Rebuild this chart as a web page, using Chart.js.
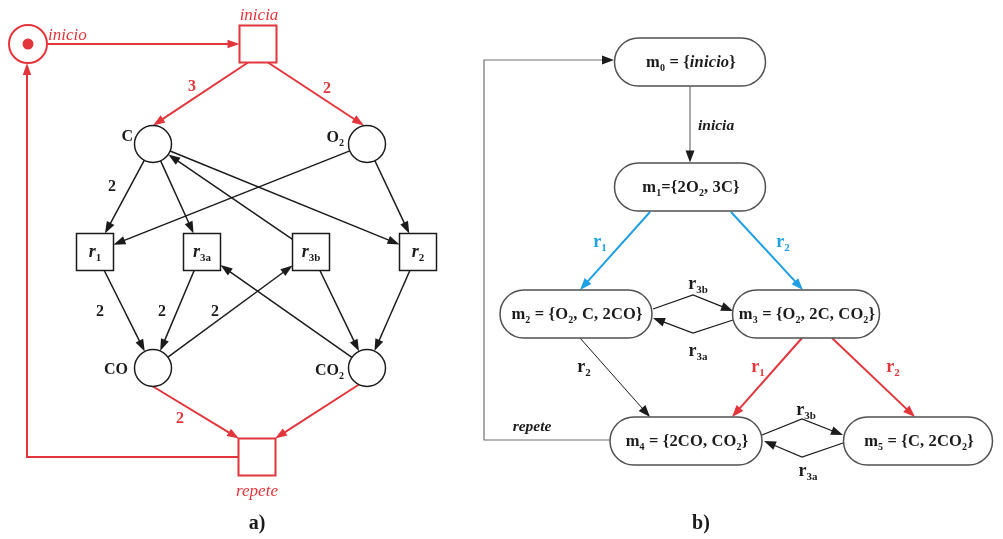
<!DOCTYPE html>
<html><head><meta charset="utf-8">
<script src="https://cdn.jsdelivr.net/npm/chart.js@4"></script>
<style>html,body{margin:0;padding:0;background:#fff;overflow:hidden}#wrap{width:1003px;height:539px}</style>
</head><body><div id="wrap"><canvas id="c" width="1003" height="539"></canvas></div>
<script>
// ---------- (a) Petri net ----------
const placeIds    = ['inicio', 'C', 'O2', 'CO', 'CO2'];
const placeX      = [28, 153, 367, 153, 367];
const placeY      = [44, 144, 144, 368, 368];
const placeTokens = [1, 0, 0, 0, 0];
const placeText   = ['*inicio*', 'C', 'O~2~', 'CO', 'CO~2~'];

const transIds  = ['inicia', 'r1', 'r3a', 'r3b', 'r2', 'repete'];
const transX    = [258, 95, 202, 311, 418, 257];
const transY    = [44, 252, 252, 252, 252, 457];
const transText = ['*inicia*', '*r*~1~', '*r*~3a~', '*r*~3b~', '*r*~2~', '*repete*'];

const arcFrom   = ['inicio','inicia','inicia','C','C','r3b','C','O2','O2','r1','r3a','CO','CO2','r3b','r2','CO','CO2','repete'];
const arcTo     = ['inicia','C','O2','r1','r3a','C','r2','r1','r2','CO','CO','r3b','r3a','CO2','CO2','repete','repete','inicio'];
const arcWeight = [1,3,2,2,1,1,1,1,1,2,2,2,1,1,1,2,1,1];

// ---------- (b) reachability graph ----------
const markIds  = ['m0','m1','m2','m3','m4','m5'];
const markX    = [690, 690, 576, 806, 686, 918];
const markY    = [62, 187, 314, 314, 441, 441];
const markText = ['m~0~ = {*inicio*}', 'm~1~={2O~2~, 3C}', 'm~2~ = {O~2~, C, 2CO}',
                  'm~3~ = {O~2~, 2C, CO~2~}', 'm~4~ = {2CO, CO~2~}', 'm~5~ = {C, 2CO~2~}'];

const edgeFrom  = ['m0','m1','m1','m2','m3','m2','m3','m3','m4','m5','m4'];
const edgeTo    = ['m1','m2','m3','m3','m2','m4','m4','m5','m5','m4','m0'];
const edgeLabel = ['inicia','r1','r2','r3b','r3a','r2','r1','r2','r3b','r3a','repete'];

// ---------- layout / style ----------
const RED = '#e2363c', BLUE = '#1fa0e4', INK = '#1b1b1b', GREY = '#707070';
const SERIF = '"Liberation Serif", "DejaVu Serif", serif';
const L = {
  placeR: [19, 18.5, 18.5, 18.5, 18.5],
  boxHalf: 18.5,
  placeLabel: [[48, 34, 'left'], [133, 136, 'right'], [344, 137, 'right'], [128, 369, 'right'], [344, 370, 'right']],
  transLabel: [[259, 14], null, null, null, null, [257, 490]],
  arcPorts: { // index: [fromPort, toPort, via]
    1: [[-10, 18.5], [0, -18.5]],
    2: [[10, 18.5], [-3, -18.5]],
    15: [[0, 18.5], [-18, -18.5]],
    16: [[-8, 16.5], [18, -18.5]],
    17: [[-18.5, 0], [-1, 19], [[27, 457]]]
  },
  weightPos: {1: [192, 86], 2: [327, 88], 3: [112, 186], 9: [100, 311], 10: [162, 311], 11: [215, 311], 15: [180, 418]},
  markW: [151, 151, 152, 147, 152, 149], markH: 48,
  edgePorts: [
    [[0, 24.5], [0, -24.5]],
    [[-40, 25], [4, -24]],
    [[41, 25], [-3, -24]],
    [[77, -5], [-73, -3], [[693, 295]]],
    [[-73, 6], [77, 4], [[693, 333]]],
    [[4, 24], [-36, -24]],
    [[-4, 24], [46, -24]],
    [[26, 24], [-3, -24]],
    [[76, -6], [-75, -6], [[802, 419]]],
    [[-75, 2], [78, 0], [[802, 457]]],
    [[-76, -1], [-76, -2], [[484, 440], [484, 60]]]
  ],
  edgeColor: [INK, BLUE, BLUE, INK, INK, INK, RED, RED, INK, INK, GREY],
  edgeLineColor: [GREY, BLUE, BLUE, INK, INK, INK, RED, RED, INK, INK, GREY],
  edgeWidth: [1.2, 2, 2, 1.3, 1.3, 1, 2, 2, 1.3, 1.3, 1.2],
  edgeLabelPos: [[698, 125, 'left'], [600, 241], [783, 241], [698, 283], [698, 350], [584, 366],
                 [758, 366], [893, 366], [806, 409], [808, 470], [532, 426]]
};

function segs(s) {
  const out = []; let it = false, sub = false, buf = '';
  for (const ch of s) {
    if (ch === '*' || ch === '~') {
      if (buf) out.push({t: buf, it, sub}); buf = '';
      if (ch === '*') it = !it; else sub = !sub;
    } else buf += ch;
  }
  if (buf) out.push({t: buf, it, sub});
  return out;
}
function drawRich(ctx, s, x, y, size, color, align, bold, spacing) {
  const sg = segs(s);
  const font = g => `${g.it ? 'italic ' : ''}${bold ? 'bold ' : ''}${g.sub ? Math.round(size * 0.6) : size}px ${SERIF}`;
  ctx.letterSpacing = (spacing || 0) + 'px';
  let w = 0;
  sg.forEach(g => { ctx.font = font(g); g.w = ctx.measureText(g.t).width; w += g.w; });
  let cx = align === 'right' ? x - w : align === 'left' ? x : x - w / 2;
  const base = y + size * 0.33;
  ctx.fillStyle = color; ctx.textAlign = 'left'; ctx.textBaseline = 'alphabetic';
  sg.forEach(g => { ctx.font = font(g); ctx.fillText(g.t, cx, base + (g.sub ? size * 0.22 : 0)); cx += g.w; });
  ctx.letterSpacing = '0px';
}
function arrowPath(ctx, pts, color, lineColor, lw, len, wid) {
  const n = pts.length, [x2, y2] = pts[n - 1], [x1, y1] = pts[n - 2];
  const a = Math.atan2(y2 - y1, x2 - x1);
  ctx.strokeStyle = lineColor; ctx.lineWidth = lw; ctx.lineJoin = 'miter';
  ctx.beginPath(); ctx.moveTo(pts[0][0], pts[0][1]);
  for (let i = 1; i < n - 1; i++) ctx.lineTo(pts[i][0], pts[i][1]);
  ctx.lineTo(x2 - Math.cos(a) * len * 0.8, y2 - Math.sin(a) * len * 0.8);
  ctx.stroke();
  ctx.fillStyle = color; ctx.beginPath();
  ctx.moveTo(x2, y2);
  ctx.lineTo(x2 - len * Math.cos(a) + wid / 2 * Math.sin(a), y2 - len * Math.sin(a) - wid / 2 * Math.cos(a));
  ctx.lineTo(x2 - len * Math.cos(a) - wid / 2 * Math.sin(a), y2 - len * Math.sin(a) + wid / 2 * Math.cos(a));
  ctx.closePath(); ctx.fill();
}

const diagram = {
  id: 'diagram',
  beforeDatasetsDraw(chart) {
    const ctx = chart.ctx, sx = chart.scales.x, sy = chart.scales.y;
    const P = (x, y) => [sx.getPixelForValue(x), sy.getPixelForValue(y)];
    const node = id => {
      let i = placeIds.indexOf(id);
      if (i >= 0) return {c: P(placeX[i], placeY[i]), kind: 'circle', r: L.placeR[i]};
      i = transIds.indexOf(id);
      return {c: P(transX[i], transY[i]), kind: 'box', h: L.boxHalf};
    };
    const clip = (nd, toward) => {
      const dx = toward[0] - nd.c[0], dy = toward[1] - nd.c[1], d = Math.hypot(dx, dy);
      if (nd.kind === 'circle') return [nd.c[0] + dx / d * nd.r, nd.c[1] + dy / d * nd.r];
      const t = Math.min(nd.h / Math.abs(dx || 1e-9), nd.h / Math.abs(dy || 1e-9));
      return [nd.c[0] + dx * t, nd.c[1] + dy * t];
    };
    ctx.save();
    arcFrom.forEach((f, i) => {
      const a = node(f), b = node(arcTo[i]);
      const red = [f, arcTo[i]].some(id => ['inicio', 'inicia', 'repete'].includes(id));
      const pr = L.arcPorts[i];
      const via = pr && pr[2] ? pr[2].map(v => P(v[0], v[1])) : [];
      const s = pr ? [a.c[0] + pr[0][0], a.c[1] + pr[0][1]] : clip(a, via[0] || b.c);
      const e = pr ? [b.c[0] + pr[1][0], b.c[1] + pr[1][1]] : clip(b, via.length ? via[via.length - 1] : a.c);
      const col = red ? RED : INK;
      arrowPath(ctx, [s, ...via, e], col, col, red ? 2 : 1.5, 12, 8.5);
      if (arcWeight[i] > 1) {
        const wp = L.weightPos[i];
        const q = P(wp[0], wp[1]);
        drawRich(ctx, String(arcWeight[i]), q[0], q[1], 16, col, 'center', true);
      }
    });
    // reachability graph edges
    const mnode = id => { const i = markIds.indexOf(id); return P(markX[i], markY[i]); };
    edgeFrom.forEach((f, i) => {
      const a = mnode(f), b = mnode(edgeTo[i]), pr = L.edgePorts[i];
      const via = pr[2] ? pr[2].map(v => P(v[0], v[1])) : [];
      const pts = [[a[0] + pr[0][0], a[1] + pr[0][1]], ...via, [b[0] + pr[1][0], b[1] + pr[1][1]]];
      arrowPath(ctx, pts, L.edgeColor[i] === GREY ? INK : L.edgeColor[i], L.edgeLineColor[i], L.edgeWidth[i], 12, 9);
      const lp = L.edgeLabelPos[i], q = P(lp[0], lp[1]);
      const isR = /^r\d/.test(edgeLabel[i]);
      const lab = isR ? 'r~' + edgeLabel[i].slice(1) + '~' : '*' + edgeLabel[i] + '*';
      const lc = L.edgeColor[i] === GREY ? INK : L.edgeColor[i];
      drawRich(ctx, lab, q[0], q[1], isR ? 18 : 15.5, lc, lp[2] || 'center', true);
    });
    ctx.restore();
  },
  afterDatasetsDraw(chart) {
    const ctx = chart.ctx, sx = chart.scales.x, sy = chart.scales.y;
    const P = (x, y) => [sx.getPixelForValue(x), sy.getPixelForValue(y)];
    ctx.save();
    placeText.forEach((t, i) => {
      const lp = L.placeLabel[i], q = P(lp[0], lp[1]);
      const red = i === 0;
      drawRich(ctx, t, q[0], q[1], red ? 17 : 16, red ? RED : INK, lp[2], !red);
    });
    transText.forEach((t, i) => {
      const red = ['inicia', 'repete'].includes(transIds[i]);
      if (red) {
        const lp = L.transLabel[i], q = P(lp[0], lp[1]);
        drawRich(ctx, t, q[0], q[1], 17, RED, 'center', false);
      } else {
        const q = P(transX[i], transY[i]);
        drawRich(ctx, t, q[0], q[1] - 1, 18, INK, 'center', true);
      }
    });
    // marking nodes
    markIds.forEach((id, i) => {
      const c = P(markX[i], markY[i]), w = L.markW[i], h = L.markH;
      ctx.beginPath();
      ctx.roundRect(c[0] - w / 2, c[1] - h / 2, w, h, h / 2);
      ctx.fillStyle = '#fff'; ctx.fill();
      ctx.strokeStyle = '#505050'; ctx.lineWidth = 1.5; ctx.stroke();
      drawRich(ctx, markText[i], c[0] + 1, c[1], 16.5, INK, 'center', true, 0.15);
    });
    let q = P(257, 522); drawRich(ctx, 'a)', q[0], q[1], 20, INK, 'center', true);
    q = P(701, 522); drawRich(ctx, 'b)', q[0], q[1], 20, INK, 'center', true);
    ctx.restore();
  }
};

const placeColors = placeIds.map(id => id === 'inicio' ? RED : INK);
const transColors = transIds.map(id => (id === 'inicia' || id === 'repete') ? RED : INK);

new Chart(document.getElementById('c'), {
  type: 'scatter',
  data: {
    datasets: [
      { label: 'places', order: 2, data: placeX.map((x, i) => ({x, y: placeY[i]})),
        pointStyle: 'circle', pointRadius: placeIds.map((_, i) => L.placeR[i]),
        pointBackgroundColor: '#fff', pointBorderColor: placeColors,
        pointBorderWidth: placeIds.map(id => id === 'inicio' ? 2 : 1.5), clip: false },
      { label: 'tokens', order: 0, data: placeX.map((x, i) => ({x, y: placeY[i]})).filter((_, i) => placeTokens[i] > 0),
        pointStyle: 'circle', pointRadius: 5.5, pointBackgroundColor: RED, pointBorderColor: RED,
        pointBorderWidth: 0, clip: false },
      { label: 'transitions', order: 2, data: transX.map((x, i) => ({x, y: transY[i]})),
        pointStyle: 'rect', pointRadius: L.boxHalf / Math.SQRT1_2,
        pointBackgroundColor: '#fff', pointBorderColor: transColors,
        pointBorderWidth: transIds.map(id => (id === 'inicia' || id === 'repete') ? 2 : 1.5), clip: false }
    ]
  },
  options: {
    responsive: false, devicePixelRatio: 1, animation: false, events: [],
    layout: { padding: 0, autoPadding: false },
    plugins: { legend: { display: false }, tooltip: { enabled: false } },
    scales: {
      x: { type: 'linear', min: 0, max: 1003, display: false },
      y: { type: 'linear', min: 0, max: 539, reverse: true, display: false }
    }
  },
  plugins: [diagram]
});
</script></body></html>
